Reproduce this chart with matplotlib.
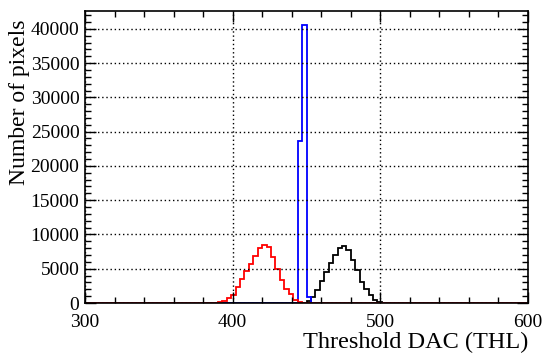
import numpy as np
import matplotlib
matplotlib.use('Agg')
import matplotlib.pyplot as plt
from matplotlib.ticker import MultipleLocator

plt.rcParams['font.family'] = ['Liberation Serif', 'DejaVu Serif']

# Anchura de bin (DAC)
bin_w = 3

# Histograma rojo
red_start = 390
red_counts = [100, 300, 700, 1200, 2300, 3500, 4600, 5700, 6800, 8000,
              8400, 8200, 6700, 5000, 3400, 2000, 1300, 450, 150, 50]

# Histograma azul
blue_start = 444
blue_counts = [23600, 40500, 900]

# Histograma negro
black_start = 450
black_counts = [300, 900, 1900, 3200, 4500, 5800, 7000, 8000, 8300,
                7800, 6300, 4800, 3100, 2000, 1200, 500, 150]

x_lo, x_hi = 300, 600


def full_hist(start, counts):
    # rellenar con ceros todo el rango
    edges = np.arange(x_lo, x_hi + bin_w, bin_w)
    vals = np.zeros(len(edges) - 1)
    i0 = (start - x_lo) // bin_w
    vals[i0:i0 + len(counts)] = counts
    return vals, edges


fig = plt.figure(figsize=(5.42, 3.54), dpi=100)
ax = fig.add_axes([85 / 542, 1 - 303 / 354, 443 / 542, 292 / 354])

v, e = full_hist(black_start, black_counts)
ax.stairs(v, e, color='black', lw=1.3)
v, e = full_hist(blue_start, blue_counts)
ax.stairs(v, e, color='#0000ff', lw=1.3)
v, e = full_hist(red_start, red_counts)
ax.stairs(v, e, color='#ff0000', lw=1.3)

ax.set_xlim(x_lo, x_hi)
ax.set_ylim(0, 42600)

ax.xaxis.set_major_locator(MultipleLocator(100))
ax.xaxis.set_minor_locator(MultipleLocator(20))
ax.yaxis.set_major_locator(MultipleLocator(5000))
ax.yaxis.set_minor_locator(MultipleLocator(1000))
ax.tick_params(which='both', direction='in', top=True, right=True, labelsize=14)
ax.tick_params(which='major', length=8, width=1)
ax.tick_params(which='minor', length=4, width=1)
ax.tick_params(axis='x', pad=8)
ax.tick_params(axis='y', pad=4)
for s in ax.spines.values():
    s.set_linewidth(1.2)

ax.grid(True, which='major', color='black', linestyle=(0, (1, 2)), lw=1)

ax.set_xlabel('Threshold DAC (THL)', fontsize=17.5, loc='right')
ax.xaxis.set_label_coords(1.0, -0.1)
ax.set_ylabel('Number of pixels', fontsize=17, loc='top')
ax.yaxis.set_label_coords(-0.125, 0.97)

fig.savefig('out.png', dpi=100)
